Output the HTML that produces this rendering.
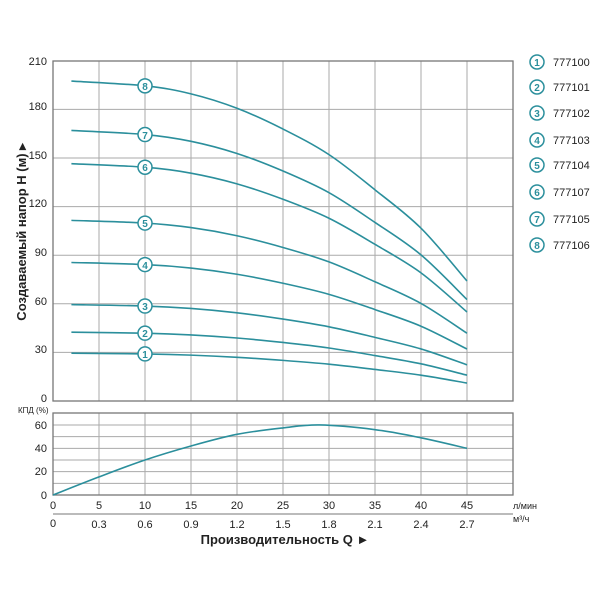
<!DOCTYPE html><html><head><meta charset="utf-8"><style>body{margin:0;background:#fff}svg{display:block;font-family:"Liberation Sans",sans-serif}</style></head><body>
<svg id="s" width="600" height="600" viewBox="0 0 600 600">
<g id="grid" stroke="#aaa" stroke-width="1" fill="none"></g>
<rect x="53" y="61" width="460" height="340" fill="none" stroke="#777" stroke-width="1.3"/>
<rect x="53" y="413" width="460" height="82" fill="none" stroke="#777" stroke-width="1.3"/>
<g id="curves" stroke="#2b8f9c" stroke-width="1.6" fill="none"></g>
<g id="marks"></g>
<g font-size="11" fill="#222" text-anchor="end">
<text x="47" y="65">210</text><text x="47" y="110">180</text><text x="47" y="159">150</text><text x="47" y="207">120</text><text x="47" y="256">90</text><text x="47" y="305">60</text><text x="47" y="353">30</text><text x="47" y="402">0</text>
<text x="47" y="429">60</text><text x="47" y="452">40</text><text x="47" y="475">20</text><text x="47" y="499">0</text>
</g>
<text x="18" y="413" font-size="8" fill="#222">КПД (%)</text>
<text transform="translate(26,232) rotate(-90)" font-size="13" font-weight="bold" fill="#222" text-anchor="middle">Создаваемый напор H (м) ▸</text>
<g font-size="11" fill="#222" text-anchor="middle">
<text x="53" y="509">0</text><text x="99" y="509">5</text><text x="145" y="509">10</text><text x="191" y="509">15</text><text x="237" y="509">20</text><text x="283" y="509">25</text><text x="329" y="509">30</text><text x="375" y="509">35</text><text x="421" y="509">40</text><text x="467" y="509">45</text>
<text x="53" y="527">0</text><text x="99" y="528">0.3</text><text x="145" y="528">0.6</text><text x="191" y="528">0.9</text><text x="237" y="528">1.2</text><text x="283" y="528">1.5</text><text x="329" y="528">1.8</text><text x="375" y="528">2.1</text><text x="421" y="528">2.4</text><text x="467" y="528">2.7</text>
</g>
<line x1="53" y1="514" x2="513" y2="514" stroke="#777"/>
<text x="513" y="509" font-size="9" fill="#222">л/мин</text>
<text x="513" y="522" font-size="9" fill="#222">м³/ч</text>
<text x="285" y="544" font-size="13" font-weight="bold" fill="#222" text-anchor="middle">Производительность Q ►</text>
<g font-size="11" fill="#222">
<text x="553" y="66">777100</text><text x="553" y="91">777101</text><text x="553" y="117">777102</text><text x="553" y="144">777103</text><text x="553" y="169">777104</text><text x="553" y="196">777107</text><text x="553" y="223">777105</text><text x="553" y="249">777106</text>
</g>
<g id="leg"></g>
<g id="nums" font-size="10" font-weight="bold" fill="#2b8f9c" text-anchor="middle">
<text x="537" y="66">1</text><text x="537" y="91">2</text><text x="537" y="117">3</text><text x="537" y="144">4</text><text x="537" y="169">5</text><text x="537" y="196">6</text><text x="537" y="223">7</text><text x="537" y="249">8</text>
<text x="145" y="358">1</text><text x="145" y="337">2</text><text x="145" y="310">3</text><text x="145" y="269">4</text><text x="145" y="227">5</text><text x="145" y="171">6</text><text x="145" y="139">7</text><text x="145" y="90">8</text>
</g>
</svg>
<script>
var X=q=>53+q*9.2,Y=h=>401-h*1.62,E=e=>495-e*1.167,g=document.getElementById('grid'),N='http://www.w3.org/2000/svg';
function el(p,t,a){var e=document.createElementNS(N,t);for(var k in a)e.setAttribute(k,a[k]);p.appendChild(e);return e}
for(var q=5;q<50;q+=5){el(g,'line',{x1:X(q),x2:X(q),y1:61,y2:401});el(g,'line',{x1:X(q),x2:X(q),y1:413,y2:495});}
for(var h=30;h<210;h+=30)el(g,'line',{x1:53,x2:513,y1:Y(h),y2:Y(h)});
for(var e=10;e<70;e+=10)el(g,'line',{x1:53,x2:513,y1:E(e),y2:E(e)});
var f=[[2,1],[10,.985],[15,.96],[20,.915],[25,.85],[30,.77],[35,.66],[40,.54],[45,.375]];
var H=[29.5,42.5,59.5,85.5,111.5,146.5,167,197.5],c=document.getElementById('curves'),m=document.getElementById('marks'),L=document.getElementById('leg');
function sp(pts){var d='M'+pts[0][0]+','+pts[0][1];for(var i=0;i<pts.length-1;i++){var p0=pts[i-1]||pts[i],p1=pts[i],p2=pts[i+1],p3=pts[i+2]||p2;d+=' C'+(p1[0]+(p2[0]-p0[0])/6)+','+(p1[1]+(p2[1]-p0[1])/6)+' '+(p2[0]-(p3[0]-p1[0])/6)+','+(p2[1]-(p3[1]-p1[1])/6)+' '+p2[0]+','+p2[1];}return d}
H.forEach(function(h0){var pts=f.map(a=>[X(a[0]),Y(h0*a[1])]);el(c,'path',{d:sp(pts)});el(m,'circle',{cx:X(10),cy:Y(h0*.985),r:7,fill:'#fff',stroke:'#2b8f9c','stroke-width':1.5});});
[62,87,113,140,165,192,219,245].forEach(y=>el(L,'circle',{cx:537,cy:y,r:7,fill:'#fff',stroke:'#2b8f9c','stroke-width':1.5}));
var ep=[[0,0],[5,15.5],[10,30],[15,42],[20,52],[25,57.5],[29,60],[35,56],[40,49],[45,40]].map(a=>[X(a[0]),E(a[1])]);
el(c,'path',{d:sp(ep)});
</script>
</body></html>
